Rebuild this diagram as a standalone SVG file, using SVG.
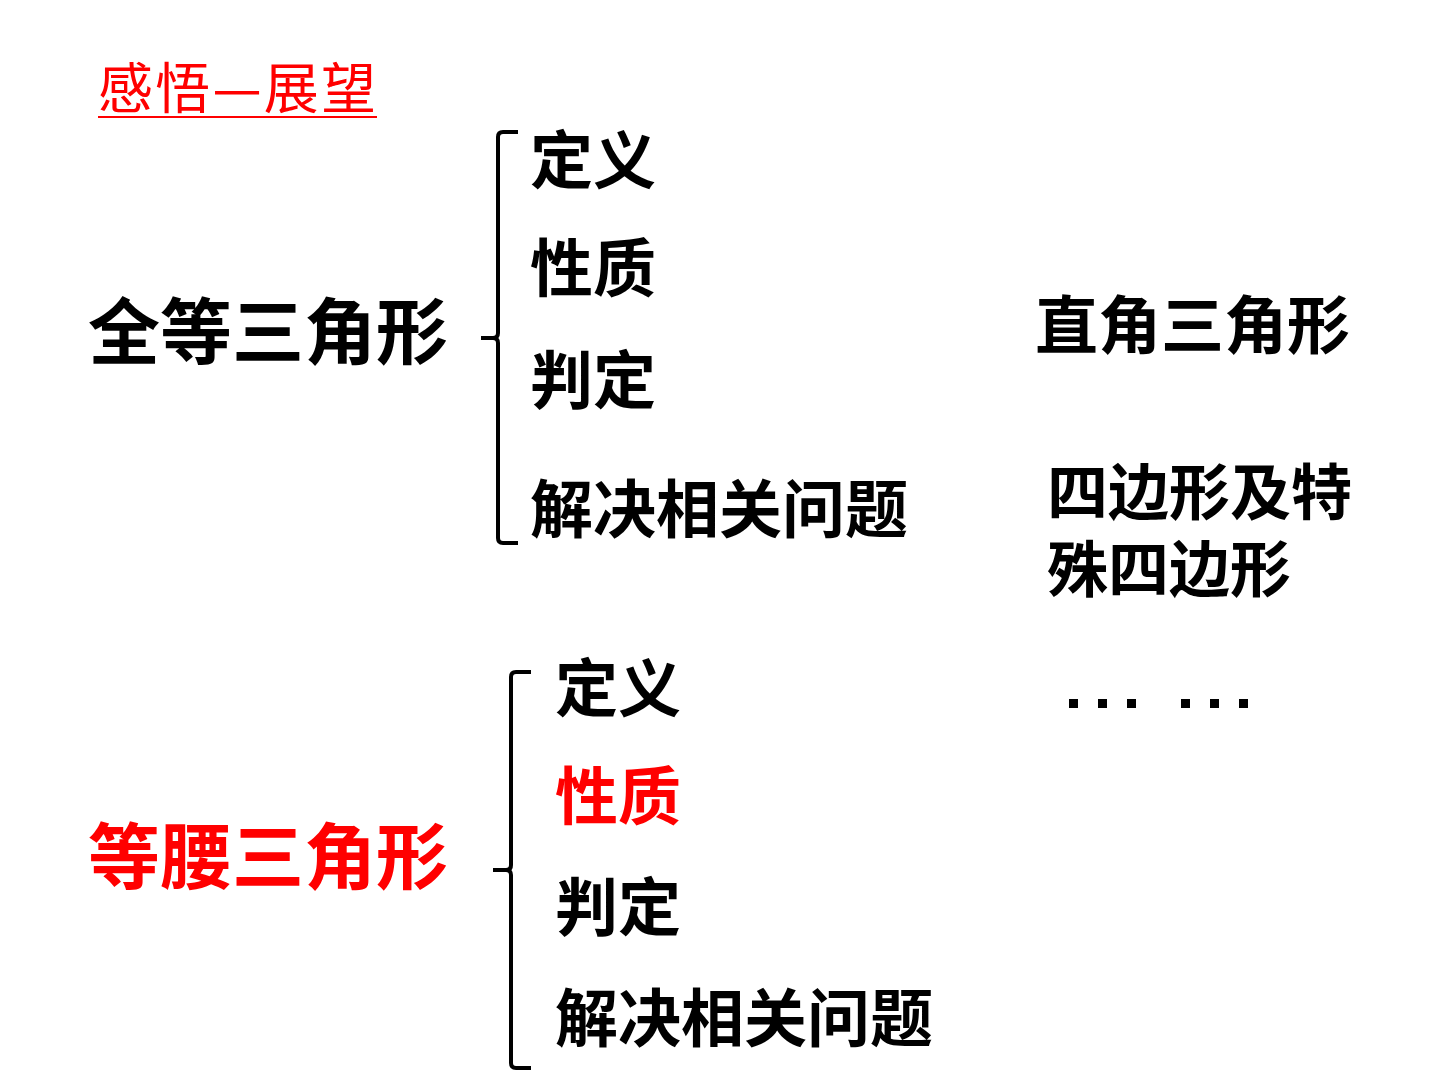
<svg xmlns="http://www.w3.org/2000/svg" width="1440" height="1080" viewBox="0 0 1440 1080">
<style>
.t{font-family:"Noto Sans CJK SC","Noto Sans CJK JP",sans-serif;font-weight:bold;fill:#000}
.r{fill:#ff0000}
.big{font-size:72px}
.mid{font-size:63px}
.brace{fill:none;stroke:#000;stroke-width:4}
.dot{fill:#000}
</style>
<rect width="1440" height="1080" fill="#fff"/>
<g id="title">
<text x="98" y="108" font-family="Noto Sans CJK SC, sans-serif" font-size="55" fill="#ff0000" textLength="278" lengthAdjust="spacing">感悟—展望</text>
<line x1="98" y1="117" x2="377" y2="117" stroke="#ff0000" stroke-width="2"/>
</g>
<g id="node-quandeng"><text class="t big" x="88" y="358">全等三角形</text></g>
<g id="node-q1"><text class="t mid" x="530" y="183">定义</text></g>
<g id="node-q2"><text class="t mid" x="530" y="291">性质</text></g>
<g id="node-q3"><text class="t mid" x="530" y="403">判定</text></g>
<g id="node-q4"><text class="t mid" x="530" y="532">解决相关问题</text></g>
<g id="node-dengyao"><text class="t big r" x="88" y="883">等腰三角形</text></g>
<g id="node-d1"><text class="t mid" x="555" y="711">定义</text></g>
<g id="node-d2"><text class="t mid r" x="555" y="819">性质</text></g>
<g id="node-d3"><text class="t mid" x="555" y="930">判定</text></g>
<g id="node-d4"><text class="t mid" x="555" y="1041">解决相关问题</text></g>
<g id="node-zhijiao"><text class="t mid" x="1035" y="348">直角三角形</text></g>
<g id="node-sibian"><text class="t" font-size="61" x="1047" y="515">四边形及特<tspan x="1047" y="592">殊四边形</tspan></text></g>
<g id="node-dots">
<rect class="dot" x="1069" y="699" width="9" height="9"/>
<rect class="dot" x="1098" y="699" width="9" height="9"/>
<rect class="dot" x="1127" y="699" width="9" height="9"/>
<rect class="dot" x="1181" y="699" width="9" height="9"/>
<rect class="dot" x="1210" y="699" width="9" height="9"/>
<rect class="dot" x="1239" y="699" width="9" height="9"/>
</g>
<g id="connectors">
<path class="brace" d="M518,132 L503,132 Q498,132 498,137 L498,333 Q498,338 493,338 L481,338 M493,338 Q498,338 498,343 L498,538 Q498,543 503,543 L518,543"/>
<path class="brace" d="M531,672 L516,672 Q511,672 511,677 L511,865 Q511,870 506,870 L493,870 M506,870 Q511,870 511,875 L511,1063 Q511,1068 516,1068 L531,1068"/>
</g>
</svg>
